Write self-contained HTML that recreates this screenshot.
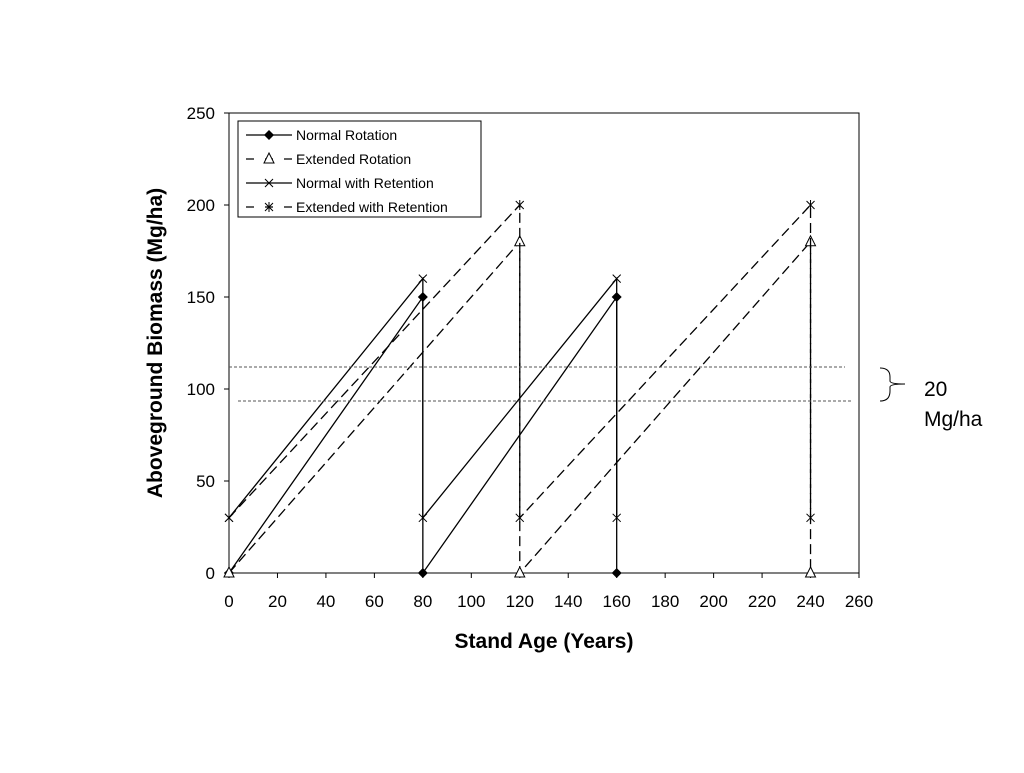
<!DOCTYPE html>
<html><head><meta charset="utf-8"><style>
body{margin:0;background:#fff;font-family:"Liberation Sans",sans-serif}
</style></head><body>
<svg id="chart" width="1024" height="768" xmlns="http://www.w3.org/2000/svg" font-family="Liberation Sans, sans-serif">
<rect x="229" y="113" width="630" height="460" fill="none" stroke="#000" stroke-width="1"/>
<g id="axes"></g>
<g id="series"></g>
<text x="544" y="648" text-anchor="middle" font-size="21" font-weight="bold">Stand Age (Years)</text>
<text transform="translate(162,343) rotate(-90)" text-anchor="middle" font-size="21" font-weight="bold">Aboveground Biomass (Mg/ha)</text>
<line x1="229" y1="367" x2="845" y2="367" stroke="#555" stroke-dasharray="3,2"/>
<line x1="238" y1="401" x2="853" y2="401" stroke="#555" stroke-dasharray="3,2"/>
<path d="M880,368 Q890,368 890,377 L890,381 Q890,384 905,384 Q890,384 890,387 L890,391 Q890,401 880,401" fill="none" stroke="#000"/>
<text x="924" y="396" font-size="21">20</text>
<text x="924" y="426" font-size="21">Mg/ha</text>
<g>
<rect x="238" y="121" width="243" height="96" fill="#fff" stroke="#000"/>
<g id="legend"></g>
</g>
</svg>
<script>
const xTicks=[0,20,40,60,80,100,120,140,160,180,200,220,240,260];
const yTicks=[0,50,100,150,200,250];
const seriesNames=["Normal Rotation","Extended Rotation","Normal with Retention","Extended with Retention"];
const nrX=[0,80,80,160,160];
const nrY=[0,150,0,150,0];
const erX=[0,120,120,240,240];
const erY=[0,180,0,180,0];
const nwrX=[0,80,80,160,160];
const nwrY=[30,160,30,160,30];
const ewrX=[0,120,120,240,240];
const ewrY=[30,200,30,200,30];
const sx=v=>229+v*630/260, sy=v=>573-v*460/250;
const NS="http://www.w3.org/2000/svg";
function mk(tag,attrs,parent){const e=document.createElementNS(NS,tag);for(const k in attrs)e.setAttribute(k,attrs[k]);parent.appendChild(e);return e;}
const axes=document.getElementById('axes');
xTicks.forEach(t=>{
 const l=mk('line',{x1:sx(t),x2:sx(t),y1:573,y2:578,stroke:'#000'},axes);
 
 
 const tx=mk('text',{x:sx(t),y:607,'text-anchor':'middle','font-size':17},axes);tx.textContent=t;
 
 
});
yTicks.forEach(t=>{
 const l=mk('line',{x1:224,x2:229,y1:sy(t),y2:sy(t),stroke:'#000'},axes);
 
 
 const tx=mk('text',{x:215,y:sy(t)+6,'text-anchor':'end','font-size':17},axes);tx.textContent=t;
 
 
});
function marker(type,x,y,g){
 if(type==='diamond')return mk('path',{d:`M${x},${y-5}L${x+5},${y}L${x},${y+5}L${x-5},${y}Z`,fill:'#000'},g);
 if(type==='triangle')return mk('path',{d:`M${x},${y-6}L${x+5},${y+4}L${x-5},${y+4}Z`,fill:'#fff',stroke:'#000'},g);
 if(type==='x')return mk('path',{d:`M${x-4},${y-4}L${x+4},${y+4}M${x-4},${y+4}L${x+4},${y-4}`,stroke:'#000',fill:'none'},g);
 return mk('path',{d:`M${x-4},${y-4}L${x+4},${y+4}M${x-4},${y+4}L${x+4},${y-4}M${x},${y-5}L${x},${y+5}`,stroke:'#000',fill:'none'},g);
}
const defs=[[nrX,nrY,'diamond',''],[erX,erY,'triangle','10,5'],[nwrX,nwrY,'x',''],[ewrX,ewrY,'star','10,5']];
const sg=document.getElementById('series');
const slugs=['normal-rotation','extended-rotation','normal-with-retention','extended-with-retention'];
defs.forEach((d,i)=>{
 const g=mk('g',{},sg);
 
 
 const pts=d[0].map((x,j)=>sx(x)+','+sy(d[1][j])).join(' ');
 const pl=mk('polyline',{points:pts,fill:'none',stroke:'#000','stroke-width':1.3},g);
 if(d[3])pl.setAttribute('stroke-dasharray',d[3]);
 
 
 d[0].forEach((x,j)=>{
  const m=marker(d[2],sx(x),sy(d[1][j]),g);
  
  
 });
});
const lg=document.getElementById('legend');
defs.forEach((d,i)=>{
 const y=135+i*24;
 const g=mk('g',{},lg);
 
 
 const l=mk('line',{x1:246,x2:292,y1:y,y2:y,stroke:'#000','stroke-width':1.3},g);
 if(d[3])l.setAttribute('stroke-dasharray','8,11');
 marker(d[2],269,y,g);
 const t=mk('text',{x:296,y:y+5,'font-size':14},g);t.textContent=seriesNames[i];
});
</script>
</body></html>
